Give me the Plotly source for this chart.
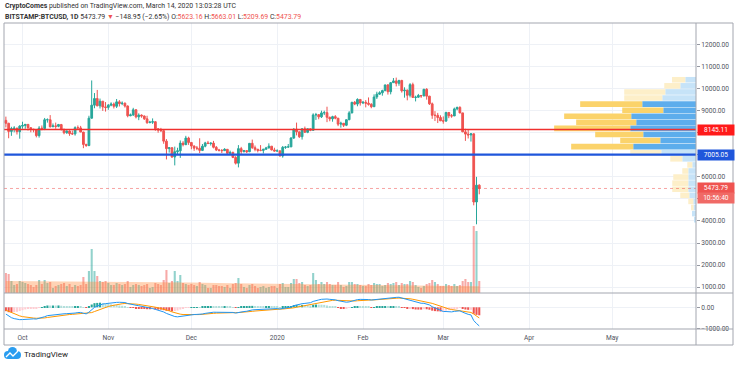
import numpy as np
import pandas as pd
import plotly.graph_objects as go

# ---------------- DATA ----------------
start_date = "2019-09-25"

opens = [
    # Sep 25-30
    8560, 8430, 8060, 8190, 8210, 8050,
    # Oct
    8300, 8330, 8380, 8230, 8160, 8140, 7870, 8210, 8190, 8590, 8590, 8270, 8310, 8290, 8370, 8160,
    8000, 8080, 7960, 7950, 8230, 8220, 8030, 7470, 7420, 8660, 9250, 9550, 9220, 9430, 9170,
    # Nov
    9150, 9250, 9300, 9200, 9400, 9320, 9340, 9210, 8770, 8810, 9040, 8720, 8800, 8760, 8630,
    8460, 8480, 8500, 8180, 8120, 8090, 7620, 7280, 7320, 6900, 7140, 7180, 7530, 7460, 7760,
    # Dec
    7560, 7400, 7300, 7300, 7200, 7390, 7540, 7510, 7530, 7340, 7220, 7200, 7190, 7250, 7070,
    7110, 6880, 6620, 7280, 7150, 7190, 7140, 7520, 7320, 7250, 7200, 7200, 7250, 7310, 7390, 7220,
    # Jan
    7170, 7180, 6950, 7340, 7350, 7360, 7760, 8160, 8040, 7820, 8180, 8020, 8180, 8110, 8810,
    8820, 8720, 8900, 8910, 8700, 8630, 8730, 8660, 8390, 8430, 8340, 8590, 8900, 9380, 9300, 9510,
    # Feb
    9350, 9380, 9340, 9290, 9180, 9620, 9750, 9810, 9910, 10170, 9860, 10270, 10350, 10240, 10370,
    9900, 9930, 9700, 10180, 9600, 9610, 9690, 9670, 9970, 9660, 9310, 8790, 8790, 8690,
    # Mar
    8540, 8530, 8920, 8770, 8760, 9080, 9150, 8900, 8040, 7940, 7900, 7950, 4860, 5623.16,
]
highs = [
    8730, 8450, 8270, 8300, 8220, 8340,
    8500, 8390, 8390, 8240, 8180, 8160, 8300, 8330, 8670, 8650, 8800, 8420, 8460, 8400, 8400, 8170,
    8110, 8110, 8100, 8290, 8330, 8310, 8040, 7500, 8770, 10370, 9800, 9940, 9550, 9430, 9390,
    9300, 9380, 9370, 9530, 9480, 9420, 9370, 9240, 8870, 9130, 9070, 8880, 8830, 8780, 8770,
    8540, 8650, 8520, 8200, 8220, 8140, 7710, 7350, 7340, 7370, 7320, 7650, 7620, 7860, 7820,
    7560, 7420, 7400, 7750, 7490, 7590, 7630, 7560, 7630, 7400, 7270, 7260, 7300, 7260, 7190,
    7140, 6940, 7440, 7360, 7220, 7190, 7520, 7690, 7420, 7270, 7440, 7270, 7360, 7520, 7400, 7320,
    7250, 7190, 7400, 7400, 7490, 7800, 8210, 8460, 8050, 8200, 8280, 8190, 8190, 8880, 8900,
    8840, 9000, 9000, 9180, 8730, 8770, 8800, 8670, 8500, 8430, 8600, 8980, 9400, 9440, 9560, 9530,
    9440, 9480, 9600, 9340, 9740, 9860, 9880, 9950, 10170, 10200, 10300, 10480, 10500, 10400, 10400,
    10060, 9960, 10250, 10270, 9680, 9760, 9700, 9990, 10020, 9670, 9370, 8980, 8900, 8790,
    8740, 8950, 8930, 8850, 9140, 9180, 9200, 8900, 8180, 8150, 7980, 7970, 6000, 5663.01,
]
lows = [
    8240, 7750, 7860, 8020, 7920, 7730,
    8180, 8180, 8100, 8020, 8020, 7790, 7780, 8110, 8120, 8460, 8240, 8270, 8180, 8250, 8100, 7930,
    7950, 7860, 7900, 7870, 8160, 8030, 7300, 7360, 7390, 8640, 9110, 9200, 9100, 8990, 8960,
    9040, 9200, 9100, 9120, 9190, 9250, 9140, 8700, 8750, 8760, 8650, 8570, 8680, 8580, 8400,
    8430, 8400, 8090, 8000, 8050, 7500, 6790, 7100, 6860, 6520, 7020, 6860, 7380, 7440, 7450,
    7250, 7180, 7210, 7080, 7170, 7340, 7490, 7420, 7290, 7170, 7150, 7080, 7170, 7050, 7020,
    6850, 6560, 6430, 7040, 7100, 7080, 7120, 7270, 7160, 7110, 7160, 7060, 7240, 7290, 7200, 7150,
    7150, 6920, 6870, 7270, 7330, 7350, 7720, 7880, 7760, 7690, 8000, 7980, 8070, 8100, 8580,
    8610, 8670, 8800, 8480, 8520, 8500, 8610, 8300, 8230, 8260, 8300, 8570, 8880, 9250, 9200, 9230,
    9300, 9150, 9230, 9110, 9170, 9530, 9720, 9680, 9880, 9730, 9740, 10260, 10100, 10130, 9820,
    9590, 9470, 9600, 9580, 9420, 9580, 9580, 9650, 9500, 9260, 8630, 8530, 8440, 8530,
    8410, 8490, 8660, 8680, 8760, 9020, 8880, 8030, 7630, 7740, 7600, 4710, 3850, 5209.69,
]
closes = [
    8430, 8060, 8190, 8210, 8050, 8300,
    8330, 8380, 8230, 8160, 8140, 7870, 8210, 8190, 8590, 8590, 8270, 8310, 8290, 8370, 8160, 8000,
    8080, 7960, 7950, 8230, 8220, 8030, 7470, 7420, 8660, 9250, 9550, 9220, 9430, 9170, 9150,
    9250, 9300, 9200, 9400, 9320, 9340, 9210, 8770, 8810, 9040, 8720, 8800, 8760, 8630, 8460,
    8480, 8500, 8180, 8120, 8090, 7620, 7280, 7320, 6900, 7140, 7180, 7530, 7460, 7760, 7560,
    7400, 7300, 7300, 7200, 7390, 7540, 7510, 7530, 7340, 7220, 7200, 7190, 7250, 7070, 7110,
    6880, 6620, 7280, 7150, 7190, 7140, 7520, 7320, 7250, 7200, 7200, 7250, 7310, 7390, 7220, 7170,
    7180, 6950, 7340, 7350, 7360, 7760, 8160, 8040, 7820, 8180, 8020, 8180, 8110, 8810, 8820,
    8720, 8900, 8910, 8700, 8630, 8730, 8660, 8390, 8430, 8340, 8590, 8900, 9380, 9300, 9510, 9350,
    9380, 9340, 9290, 9180, 9620, 9750, 9810, 9910, 10170, 9860, 10270, 10350, 10240, 10370, 9900,
    9930, 9700, 10180, 9600, 9610, 9690, 9670, 9970, 9660, 9310, 8790, 8790, 8690, 8540,
    8530, 8920, 8770, 8760, 9080, 9150, 8900, 8040, 7940, 7900, 7950, 4860, 5623.16, 5473.79,
]
volumes = [
    12000, 11400, 7200, 4800, 5400, 7200,
    6600, 6000, 5400, 4800, 3600, 4800, 7800, 5400, 7800, 6000, 6600, 3000, 4200, 4800, 5400, 6000,
    4200, 5400, 3600, 4800, 4200, 4800, 9600, 5400, 13200, 26400, 13200, 10200, 7200, 6600, 7200,
    6000, 4800, 4800, 6000, 5400, 4800, 5400, 7200, 3600, 4800, 5400, 4800, 4200, 4800, 5400,
    3000, 3600, 6000, 5400, 4800, 7800, 13800, 6000, 7200, 13200, 7200, 10800, 6000, 5400, 4800,
    5400, 4800, 4200, 6600, 5400, 4800, 3000, 3000, 4800, 4800, 4200, 4200, 3600, 4800, 3000,
    5400, 6000, 9000, 5400, 3600, 3000, 4800, 5400, 4200, 3000, 3600, 4200, 3000, 3600, 4200, 4200,
    3000, 5400, 6000, 3600, 3600, 6000, 8400, 8400, 6000, 6600, 4800, 4200, 4800, 12000, 7800,
    5400, 6600, 5400, 6600, 5400, 4800, 4800, 6600, 4800, 3600, 4200, 6600, 6600, 5400, 5400, 4800,
    4200, 4200, 5400, 4800, 6000, 5400, 5400, 4200, 4800, 6000, 5400, 6000, 6600, 4800, 6000,
    5400, 5400, 7200, 6600, 4800, 3600, 3000, 4200, 5400, 6000, 7800, 6600, 5400, 4200,
    4200, 5400, 4800, 4200, 5400, 4200, 4800, 7200, 8400, 6600, 6600, 40200, 37200, 7200,
]
# closes before the visible window (2019-08-01 .. 2019-09-24), used only to seed the MACD
warmup_closes = [
    10400, 10530, 10820, 10980, 11800, 11470, 11960, 11980, 11860, 11290, 11560, 11390, 10860, 10020,
    10300, 10340, 10220, 10320, 10920, 10760, 10130, 10120, 10400, 10140, 10140, 10370, 10180, 9720,
    9490, 9590, 9600,
    9770, 10390, 10620, 10580, 10580, 10320, 10490, 10410, 10330, 10110, 10170, 10420, 10360, 10360,
    10310, 10260, 10190, 10160, 10280, 10170, 9980, 10040, 9690, 8560,
]
vol_ma_dates = ["2019-09-25", "2019-10-15", "2019-11-01", "2019-11-15", "2019-12-01", "2019-12-15",
                "2020-01-01", "2020-01-15", "2020-02-01", "2020-02-15", "2020-03-01", "2020-03-14"]
vol_ma_values = [7200, 7000, 6900, 6600, 6300, 5900, 5500, 5200, 4900, 4600, 4300, 4100]

# visible-range volume profile (24 rows)
profile_prices = [10402, 10126, 9850, 9575, 9299, 9023, 8748, 8472, 8196, 7921, 7645, 7369,
                  7093, 6818, 6542, 6266, 5991, 5715, 5439, 5163, 4888, 4612, 4336, 4061]
profile_up = [1070, 1570, 3070, 3370, 5370, 3270, 6470, 5970, 6570, 5270, 3570, 6270,
              3470, 1370, 370, 770, 770, 770, 770, 670, 270, 250, 400, 170]
profile_down = [1330, 1600, 4100, 3800, 6200, 4100, 6700, 6000, 7600, 4800, 4000, 6200,
                3100, 1200, 500, 600, 1500, 1600, 1600, 900, 500, 250, 0, 0]
profile_value_area = [False, False, False, False, True, True, True, True, True, True, True, True,
                      False, False, False, False, False, False, False, False, False, False, False, False]
profile_row_size = 275.7

level_red = 8145.11
level_blue = 7005.05
last_price = 5473.79
countdown = "10:56:40"

price_ticks = [1000, 2000, 3000, 4000, 5000, 6000, 7000, 8000, 9000, 10000, 11000, 12000]
# ticks whose labels sit under the price boxes on the axis
covered_ticks = [5000, 7000, 8000]
macd_ticks = [0, -1000]
month_ticks = ["2019-10-01", "2019-11-01", "2019-12-01", "2020-01-01",
               "2020-02-01", "2020-03-01", "2020-04-01", "2020-05-01"]
month_labels = ["Oct", "Nov", "Dec", "2020", "Feb", "Mar", "Apr", "May"]

# ---------------- GEOMETRY / STYLE ----------------
W, H = 736, 365
ML, MR, MT, MB = 4, 40, 23, 36
PW, PH = W - ML - MR, H - MT - MB


def px(x):
    return (x - ML) / PW


def py(y):
    return (H - MB - y) / PH


pane_split = py(293)
GREEN, RED = "#26A69A", "#EF5350"
GRID = "#EEF1F6"
FRAME = "#A3A6AF"
TXT = "#50535E"
FONT = "Roboto"
FS = 6.6

dates = pd.date_range(start_date, periods=len(closes), freq="D")

# MACD (12, 26, 9)
allc = pd.Series(warmup_closes + closes, dtype=float)
macd_all = allc.ewm(span=12, adjust=False).mean() - allc.ewm(span=26, adjust=False).mean()
sig_all = macd_all.ewm(span=9, adjust=False).mean()
hist_all = (macd_all - sig_all).values
n0 = len(warmup_closes)
macd = macd_all.values[n0:]
sig = sig_all.values[n0:]
hist = hist_all[n0:]
hist_colors = []
for i in range(len(hist)):
    prev = hist_all[n0 + i - 1]
    h = hist[i]
    if h >= 0:
        hist_colors.append("#26A69A" if h >= prev else "#B2DFDB")
    else:
        hist_colors.append("#EF5350" if h < prev else "#FFCDD2")

vol_colors = ["rgba(38,166,154,0.5)" if c >= o else "rgba(239,83,80,0.5)" for o, c in zip(opens, closes)]

prof_up_colors = ["#5DADEC" if va else "#C6E3F8" for va in profile_value_area]
prof_dn_colors = ["#FBD36B" if va else "#FDEFC9" for va in profile_value_area]
prof_max = max(u + d for u, d in zip(profile_up, profile_down))

fig = go.Figure()

# volume MA area
fig.add_trace(go.Scatter(x=vol_ma_dates, y=vol_ma_values, mode="lines", line=dict(width=0),
                         fill="tozeroy", fillcolor="rgba(255,140,60,0.38)",
                         xaxis="x", yaxis="y2", hoverinfo="skip"))
# volume bars
fig.add_trace(go.Bar(x=dates, y=volumes, marker=dict(color=vol_colors, line=dict(width=0)),
                     xaxis="x", yaxis="y2", hoverinfo="skip"))
# volume profile
fig.add_trace(go.Bar(y=profile_prices, x=profile_up, orientation="h", width=profile_row_size * 0.92,
                     marker=dict(color=prof_up_colors, line=dict(width=0)),
                     xaxis="x2", yaxis="y", hoverinfo="skip"))
fig.add_trace(go.Bar(y=profile_prices, x=profile_down, base=profile_up, orientation="h",
                     width=profile_row_size * 0.92,
                     marker=dict(color=prof_dn_colors, line=dict(width=0)),
                     xaxis="x2", yaxis="y", hoverinfo="skip"))
# candles
fig.add_trace(go.Candlestick(x=dates, open=opens, high=highs, low=lows, close=closes,
                             increasing=dict(line=dict(color=GREEN, width=1), fillcolor=GREEN),
                             decreasing=dict(line=dict(color=RED, width=1), fillcolor=RED),
                             whiskerwidth=0, xaxis="x", yaxis="y", hoverinfo="skip"))
# MACD
fig.add_trace(go.Bar(x=dates, y=hist, marker=dict(color=hist_colors, line=dict(width=0)),
                     xaxis="x", yaxis="y3", hoverinfo="skip"))
fig.add_trace(go.Scatter(x=dates, y=sig, mode="lines", line=dict(color="#FF9800", width=1),
                         xaxis="x", yaxis="y3", hoverinfo="skip"))
fig.add_trace(go.Scatter(x=dates, y=macd, mode="lines", line=dict(color="#2196F3", width=1),
                         xaxis="x", yaxis="y3", hoverinfo="skip"))

shapes = [
    dict(type="line", xref="paper", yref="y", x0=0, x1=1, y0=level_red, y1=level_red,
         line=dict(color="#F0302E", width=1.6)),
    dict(type="line", xref="paper", yref="y", x0=0, x1=1, y0=level_blue, y1=level_blue,
         line=dict(color="#1F56DB", width=2.2)),
    dict(type="line", xref="paper", yref="y", x0=0, x1=1, y0=last_price, y1=last_price,
         line=dict(color="rgba(239,83,80,0.75)", width=0.7, dash="dot")),
]
# frame
for (x0, y0, x1, y1) in [(4, 23, 4, 345), (696, 23, 696, 345), (733, 23, 733, 345),
                         (4, 23, 733, 23), (4, 293, 733, 293), (4, 329, 733, 329), (4, 345, 733, 345)]:
    shapes.append(dict(type="line", xref="paper", yref="paper", x0=px(x0), x1=px(x1),
                       y0=py(y0), y1=py(y1), line=dict(color=FRAME, width=1)))
# TradingView logo (cloud)
LOGO = "#2A9DF0"
for (x0, y0, x1, y1) in [(4, 351, 12, 359), (8, 347, 17, 356), (13, 351, 21, 359)]:
    shapes.append(dict(type="circle", xref="paper", yref="paper", x0=px(x0), x1=px(x1),
                       y0=py(y1), y1=py(y0), fillcolor=LOGO, line=dict(width=0)))
shapes.append(dict(type="rect", xref="paper", yref="paper", x0=px(8), x1=px(17), y0=py(359), y1=py(354),
                   fillcolor=LOGO, line=dict(width=0)))
zig = [(6, 357), (10, 353), (13, 356), (18, 351)]
path = "M " + " L ".join(f"{px(a):.5f},{py(b):.5f}" for a, b in zig)
shapes.append(dict(type="path", xref="paper", yref="paper", path=path,
                   line=dict(color="white", width=1.3)))

HFS = 6.9
annotations = [
    dict(xref="paper", yref="paper", x=px(3), y=py(6), xanchor="left", yanchor="middle", showarrow=False,
         text="<b>CryptoComes</b> published on TradingView.com, March 14, 2020 13:03:28 UTC",
         font=dict(family=FONT, size=HFS, color="#333")),
    dict(xref="paper", yref="paper", x=px(3), y=py(16.5), xanchor="left", yanchor="middle", showarrow=False,
         text=("<b>BITSTAMP:BTCUSD, 1D</b> 5473.79 <span style='color:#EF5350'>▼</span> "
               "−148.95 (−2.65%) O:<span style='color:#EF5350'>5623.16</span> "
               "H:<span style='color:#EF5350'>5663.01</span> L:<span style='color:#EF5350'>5209.69</span> "
               "C:<span style='color:#EF5350'>5473.79</span>"),
         font=dict(family=FONT, size=HFS, color="#333")),
    dict(xref="paper", yref="paper", x=px(22), y=py(354), xanchor="left", yanchor="middle", showarrow=False,
         text="TradingView", font=dict(family=FONT, size=8, color="#222")),
]
for val, txt, bg, shift in [(level_red, f"{level_red:.2f}", "#FF1A1A", 0),
                            (level_blue, f"{level_blue:.2f}", "#1F56DB", 0),
                            (last_price, f"{last_price:.2f}", "#EF5350", 0),
                            (last_price, countdown, "#F06A66", -10)]:
    annotations.append(dict(xref="paper", yref="y", x=px(697), y=val, yshift=shift,
                            xanchor="left", yanchor="middle", showarrow=False, text=txt,
                            width=34, height=8, bgcolor=bg, borderpad=1,
                            font=dict(family=FONT, size=FS, color="white")))

fig.update_layout(
    width=W, height=H, margin=dict(l=ML, r=MR, t=MT, b=MB, pad=0),
    paper_bgcolor="white", plot_bgcolor="white", showlegend=False,
    barmode="overlay", bargap=0.25, boxgap=0.1, hovermode=False,
    font=dict(family=FONT, size=FS, color=TXT),
    xaxis=dict(type="date", domain=[0, 1], anchor="y3",
               range=["2019-09-24 07:40", "2020-05-31 07:00"],
               tickvals=month_ticks, ticktext=month_labels, ticks="", showgrid=True, gridcolor=GRID,
               gridwidth=1, zeroline=False, showline=False, rangeslider=dict(visible=False),
               ticklabelstandoff=3,
               tickfont=dict(family=FONT, size=FS, color=TXT)),
    xaxis2=dict(overlaying="x", anchor="y", range=[prof_max / 0.205, 0], visible=False, showgrid=False),
    yaxis=dict(domain=[pane_split, 1], anchor="x", side="right", range=[735, 12975],
               tickvals=price_ticks,
               ticktext=["" if v in covered_ticks else f"{v:.2f}" for v in price_ticks],
               ticks="outside", ticklen=3, tickcolor="#9598A1", showgrid=True, gridcolor=GRID,
               zeroline=False, showline=False, tickfont=dict(family=FONT, size=FS, color=TXT)),
    yaxis2=dict(overlaying="y", anchor="x", range=[0, 162000], visible=False, showgrid=False),
    yaxis3=dict(domain=[0, pane_split], anchor="x", side="right", range=[-1014, 668],
                tickvals=macd_ticks, ticktext=["0.00", "−1000.00"],
                ticks="outside", ticklen=3, tickcolor="#9598A1", showgrid=True, gridcolor=GRID,
                zeroline=False, showline=False, tickfont=dict(family=FONT, size=FS, color=TXT)),
    shapes=shapes, annotations=annotations,
)

fig.write_html("out.html", config={"displayModeBar": False},
               post_script="document.body.style.margin='0';document.body.style.overflow='hidden';")
